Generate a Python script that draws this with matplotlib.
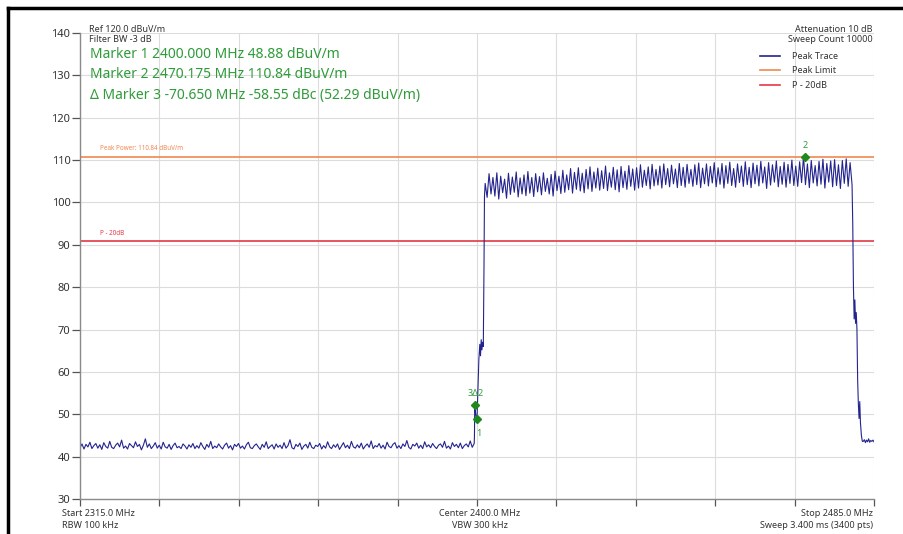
import matplotlib
matplotlib.use('Agg')
import matplotlib.pyplot as plt
import numpy as np
from matplotlib.lines import Line2D

# ---- data ----
start_mhz, stop_mhz = 2315.0, 2485.0
y_ticks = [30, 40, 50, 60, 70, 80, 90, 100, 110, 120, 130, 140]

# noise floor below the band, 2315.0 .. 2399.4 MHz
floor_db = [
    42.1, 43.0, 41.8, 42.9, 42.3, 43.4, 41.9, 42.6, 43.1, 42.0, 42.8, 41.7, 43.3, 42.4, 42.0, 43.6, 42.2, 41.9, 42.7, 43.2,
    42.3, 43.9, 42.0, 42.5, 41.8, 43.1, 42.6, 42.1, 43.5, 42.4, 42.9, 41.6, 42.7, 44.2, 42.2, 43.0, 41.9, 42.5, 43.3, 42.0,
    42.7, 41.8, 43.4, 42.3, 42.0, 42.9, 41.7, 42.6, 43.2, 42.1, 42.4, 41.9, 43.0, 42.5, 41.8, 42.8, 42.2, 43.1, 41.9, 42.6,
    42.0, 43.3, 42.4, 41.7, 42.9, 42.2, 43.6, 41.9, 42.5, 42.1, 43.0, 42.3, 41.8, 42.7, 43.2, 42.0, 42.6, 41.6, 42.9, 42.4,
    43.1, 42.0, 42.5, 41.8, 42.8, 43.4, 42.1, 41.9, 42.6, 43.0, 42.3, 41.7, 42.9, 42.2, 43.5, 41.9, 42.4, 42.8, 41.8, 43.0,
    42.2, 42.7, 41.9, 43.3, 42.0, 42.6, 44.0, 42.1, 41.8, 42.9, 42.4, 43.2, 41.7, 42.5, 42.9, 42.0, 43.4, 42.2, 41.9, 42.7,
    42.4, 43.1, 41.8, 42.6, 42.0, 43.5, 42.3, 41.9, 42.8, 42.2, 43.0, 41.7, 42.5, 43.3, 42.1, 42.7, 41.9, 43.6, 42.3, 42.0,
    42.8, 42.1, 43.2, 41.8, 42.5, 43.0, 42.2, 43.7, 41.9, 42.6, 42.3, 43.1, 42.0, 42.7, 41.8, 43.4, 42.4, 42.1, 42.9, 43.3,
    42.0, 42.6, 41.9, 43.0, 42.4, 43.8, 42.2, 41.8, 42.9, 42.5, 43.2, 42.0, 42.7, 41.9, 43.5, 42.3, 42.8, 42.1, 43.1, 42.4,
    41.9, 42.7, 43.0, 42.2, 43.6, 42.0, 42.5, 41.8, 43.3, 42.4, 42.9, 42.1, 43.2, 41.9, 42.6, 43.0, 42.3, 43.7, 42.2, 43.1,
]
floor_span = (2315.0, 2399.4)

# lower band edge
rise_mhz = [2399.45, 2399.52, 2399.65, 2399.8, 2400.0, 2400.2, 2400.4, 2400.6, 2400.75,
            2400.9, 2401.05, 2401.2, 2401.35, 2401.5, 2401.6]
rise_db = [44.6, 52.3, 50.6, 49.4, 48.9, 56.0, 63.0, 66.5, 63.8,
           67.6, 65.2, 67.0, 66.0, 85.0, 101.5]

# in-band ripple, 2401.75 .. 2480.3 MHz
band_db = [
    104.5, 101.2, 106.8, 102.0, 105.9, 101.5, 107.0, 100.8, 106.2, 102.3, 105.5, 101.0, 106.9, 101.9, 106.0, 102.4, 107.2, 101.3, 105.8, 102.0,
    106.5, 101.6, 107.3, 102.2, 105.9, 101.4, 106.8, 102.5, 106.1, 101.8, 107.0, 102.6, 105.7, 102.0, 106.6, 101.5, 107.4, 102.8, 106.2, 102.1,
    107.6, 102.4, 106.5, 103.0, 108.0, 102.2, 107.1, 103.1, 108.2, 102.7, 106.9, 102.3, 107.8, 103.2, 108.4, 102.6, 107.2, 103.4, 108.1, 102.9,
    107.5, 103.3, 108.6, 102.8, 107.0, 103.6, 108.3, 103.0, 107.7, 102.5, 108.5, 103.5, 107.4, 103.1, 108.7, 103.8, 107.9, 102.9, 108.2, 103.4,
    108.9, 103.6, 107.6, 104.0, 108.4, 103.2, 109.0, 103.9, 107.8, 104.1, 108.6, 103.4, 109.1, 104.2, 108.0, 103.7, 108.8, 104.4, 107.9, 103.5,
    109.2, 104.0, 108.3, 103.6, 109.0, 104.5, 107.8, 103.8, 108.9, 104.2, 109.3, 103.5, 108.1, 104.4, 109.1, 103.9, 108.5, 104.6, 109.4, 103.7,
    108.2, 104.3, 109.2, 103.4, 108.7, 104.5, 109.5, 104.0, 108.0, 103.6, 109.1, 104.7, 108.6, 103.8, 109.6, 104.2, 108.3, 103.5, 109.3, 104.4,
    108.8, 103.9, 109.7, 104.6, 108.4, 103.3, 109.4, 104.1, 108.9, 104.8, 109.8, 103.7, 108.5, 104.3, 109.5, 103.6, 109.0, 104.5, 110.0, 104.0,
    108.6, 103.8, 109.6, 104.7, 110.84, 104.2, 109.1, 103.5, 109.9, 104.6, 108.7, 103.9, 109.7, 104.3, 110.2, 103.4, 109.2, 104.8, 109.8, 103.7,
    110.1, 104.0, 108.9, 103.3, 109.9, 104.5, 110.3, 103.8, 109.4, 104.2,
]
band_span = (2401.75, 2480.3)

# upper band edge
fall_mhz = [2480.45, 2480.6, 2480.75, 2480.9, 2481.05, 2481.2, 2481.35, 2481.5,
            2481.65, 2481.8, 2481.95, 2482.1, 2482.3, 2482.5]
fall_db = [95.0, 80.0, 72.5, 77.0, 71.5, 74.0, 70.0, 58.0,
           52.5, 49.0, 53.0, 48.0, 45.0, 43.6]

# floor above the band, 2482.7 .. 2485.0 MHz
tail_db = [43.6, 44.0, 43.3, 43.9, 43.5, 44.2, 43.4, 43.8, 43.6, 43.9, 43.5]
tail_span = (2482.7, 2485.0)

peak_limit = 110.84
p_minus_20 = 90.84

marker_mhz = [2400.000, 2470.175, 2399.525]
marker_db = [48.88, 110.84, 52.29]
marker_names = ['1', '2', '3\u03942']

marker_lines = [
    'Marker 1 2400.000 MHz 48.88 dBuV/m',
    'Marker 2 2470.175 MHz 110.84 dBuV/m',
    '\u0394 Marker 3 -70.650 MHz -58.55 dBc (52.29 dBuV/m)',
]

# ---- colours ----
TRACE = '#24248f'
LIMIT = '#f0874f'
PM20 = '#e33a45'
GREEN = '#2f9b3a'
GRID = '#dcdcdc'
TEXT = '#333333'

W, H = 904, 534


def fx(px):
    return px / W


def fy(py):
    return 1 - py / H


def main():
    plt.rcParams['font.family'] = ['Noto Sans', 'DejaVu Sans']

    freq = np.concatenate([
        np.linspace(*floor_span, len(floor_db)),
        rise_mhz,
        np.linspace(*band_span, len(band_db)),
        fall_mhz,
        np.linspace(*tail_span, len(tail_db)),
    ])
    level = np.concatenate([floor_db, rise_db, band_db, fall_db, tail_db])

    fig = plt.figure(figsize=(W / 100, H / 100), dpi=100)
    ax = fig.add_axes([fx(80), fy(499), fx(874) - fx(80), fy(33) - fy(499)])

    ax.set_xlim(start_mhz, stop_mhz)
    ax.set_ylim(30, 140)
    xt = np.linspace(start_mhz, stop_mhz, 11)
    ax.set_xticks(xt)
    ax.set_xticklabels([])
    ax.set_yticks(y_ticks)
    ax.set_yticklabels([str(v) for v in y_ticks])
    ax.grid(True, color=GRID, linewidth=0.8)
    ax.set_axisbelow(True)
    for s in ['top', 'right']:
        ax.spines[s].set_visible(False)
    for s in ['left', 'bottom']:
        ax.spines[s].set_color('#8a8a8a')
        ax.spines[s].set_linewidth(1.0)
    ax.tick_params(axis='y', direction='out', length=6, width=0.9, color='#555555',
                   labelsize=8, labelcolor=TEXT, pad=1)
    ax.tick_params(axis='x', direction='out', length=5, width=0.9, color='#555555')

    ax.axhline(peak_limit, color=LIMIT, linewidth=1.2)
    ax.axhline(p_minus_20, color=PM20, linewidth=1.2)
    ax.text(start_mhz + 4.3, peak_limit + 1.0, 'Peak Power: 110.84 dBuV/m',
            color=LIMIT, fontsize=4.5, va='bottom')
    ax.text(start_mhz + 4.3, p_minus_20 + 1.0, 'P - 20dB',
            color=PM20, fontsize=4.5, va='bottom')

    ax.plot(freq, level, color=TRACE, linewidth=0.8)

    ax.plot(marker_mhz, marker_db, linestyle='none', marker='D', markersize=4.5,
            color='#1e8a1e')
    ax.annotate(marker_names[0], (marker_mhz[0], marker_db[0]), xytext=(1, -7),
                textcoords='offset points', ha='center', va='top', color=GREEN, fontsize=6.5)
    ax.annotate(marker_names[1], (marker_mhz[1], marker_db[1]), xytext=(0, 5),
                textcoords='offset points', ha='center', va='bottom', color=GREEN, fontsize=6.5)
    ax.annotate(marker_names[2], (marker_mhz[2], marker_db[2]), xytext=(1, 5),
                textcoords='offset points', ha='center', va='bottom', color=GREEN, fontsize=6.5)

    # header texts
    fig.text(fx(89), fy(29), 'Ref 120.0 dBuV/m', fontsize=6.5, color=TEXT, va='center')
    fig.text(fx(89), fy(39), 'Filter BW -3 dB', fontsize=6.5, color=TEXT, va='center')
    for i, line in enumerate(marker_lines):
        fig.text(fx(90), fy(54 + 21 * i), line, fontsize=10, color=GREEN, va='center')

    fig.text(fx(873), fy(29), 'Attenuation 10 dB', fontsize=6.5, color=TEXT,
             va='center', ha='right')
    fig.text(fx(873), fy(40), 'Sweep Count 10000', fontsize=6.5, color=TEXT,
             va='center', ha='right')

    desc = {}
    desc['Peak Trace'] = Line2D([], [], color=TRACE, linewidth=1.2)
    desc['Peak Limit'] = Line2D([], [], color=LIMIT, linewidth=1.2)
    desc['P - 20dB'] = Line2D([], [], color=PM20, linewidth=1.2)
    fig.legend(desc.values(), desc.keys(), loc='upper left',
               bbox_to_anchor=(fx(760), fy(52)), frameon=False, fontsize=6.5,
               handlelength=2.2, handletextpad=1.4, labelspacing=0.6,
               labelcolor=TEXT, borderaxespad=0, borderpad=0)

    # footer texts
    fig.text(fx(62), fy(514), 'Start 2315.0 MHz', fontsize=6.5, color=TEXT, va='center')
    fig.text(fx(62), fy(526), 'RBW 100 kHz', fontsize=6.5, color=TEXT, va='center')
    fig.text(fx(480), fy(514), 'Center 2400.0 MHz', fontsize=6.5, color=TEXT,
             va='center', ha='center')
    fig.text(fx(480), fy(526), 'VBW 300 kHz', fontsize=6.5, color=TEXT,
             va='center', ha='center')
    fig.text(fx(873), fy(514), 'Stop 2485.0 MHz', fontsize=6.5, color=TEXT,
             va='center', ha='right')
    fig.text(fx(873), fy(526), 'Sweep 3.400 ms (3400 pts)', fontsize=6.5, color=TEXT,
             va='center', ha='right')

    # black screenshot frame (top and left edges)
    fig.add_artist(Line2D([fx(8), 1.0], [fy(8), fy(8)], color='black', linewidth=2.5))
    fig.add_artist(Line2D([fx(8), fx(8)], [0.0, fy(8)], color='black', linewidth=2.5))

    fig.savefig('out.png', dpi=100)


if __name__ == '__main__':
    main()
